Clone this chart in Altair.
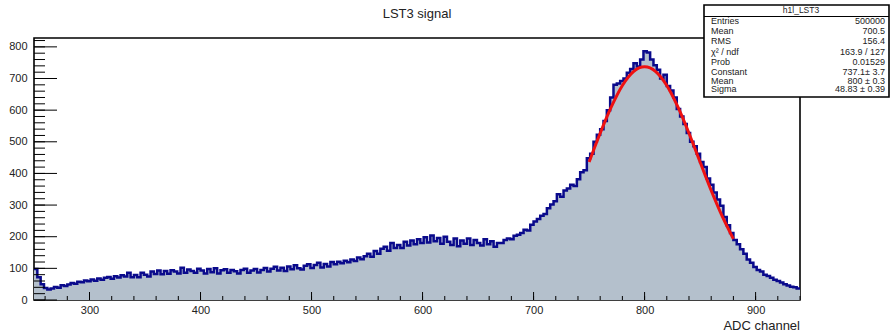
import altair as alt
import pandas as pd

# ---------------- data ----------------
bin_edges = list(range(250, 940, 3))          # left edges of 3-unit bins
counts = [
    98, 72, 50, 38, 33, 36, 41, 39, 47, 44,
    49, 54, 51, 58, 56, 62, 59, 65, 61, 68,
    64, 70, 73, 67, 75, 71, 78, 74, 86, 72,
    79, 72, 86, 80, 74, 90, 82, 93, 81, 92,
    83, 94, 90, 84, 102, 86, 96, 92, 86, 99,
    93, 84, 98, 88, 100, 84, 94, 97, 86, 95,
    91, 84, 95, 99, 86, 93, 98, 87, 95, 101,
    90, 99, 105, 93, 102, 92, 106, 97, 110, 100,
    96, 108, 113, 101, 111, 118, 103, 114, 106, 120,
    113, 121, 116, 124, 119, 128, 123, 134, 129, 138,
    146, 137, 155, 146, 162, 168, 156, 180, 164, 174,
    164, 184, 172, 188, 176, 192, 180, 198, 182, 204,
    186, 196, 178, 200, 184, 174, 194, 170, 188, 178,
    194, 174, 190, 180, 172, 192, 176, 186, 168, 180,
    180, 190, 194, 192, 203, 206, 212, 222, 220, 238,
    248, 256, 266, 272, 290, 302, 312, 334, 326, 346,
    352, 364, 360, 382, 404, 410, 448, 462, 500, 522,
    540, 566, 600, 640, 680, 684, 692, 700, 718, 730,
    748, 738, 760, 786, 782, 760, 742, 728, 700, 712,
    676, 662, 640, 604, 580, 556, 528, 500, 486, 462,
    436, 420, 384, 364, 340, 318, 298, 262, 236, 212,
    190, 176, 160, 146, 128, 118, 104, 95, 90, 80,
    76, 70, 64, 60, 55, 50, 46, 42, 40, 36,
]
x_end = 940

fit_x = [750, 760, 770, 780, 790, 800, 810, 820, 830, 840, 850, 860, 870, 880]
fit_y = [436, 527, 610, 678, 722, 737, 722, 678, 610, 527, 436, 346, 264, 193]

x_major = [300, 400, 500, 600, 700, 800, 900]
x_minor = list(range(260, 941, 20))
y_major = [0, 100, 200, 300, 400, 500, 600, 700, 800]
y_minor = list(range(0, 821, 20))

title_text = "LST3 signal"
x_title = "ADC channel"
stats_name = "h1l_LST3"
stat_labels = ["Entries", "Mean", "RMS", "χ² / ndf", "Prob", "Constant", "Mean", "Sigma"]
stat_values = ["500000", "700.5", "156.4", "163.9 / 127", "0.01529",
               "737.1± 3.7", "800 ± 0.3", "48.83 ± 0.39"]

# ---------------- styling ----------------
FONT = "Liberation Sans"
FILL = "#b4c0cc"
NAVY = "#0a0a8c"
W, H = 766, 262
PAD_L, PAD_T = 34, 38

hist = pd.DataFrame({"x": bin_edges + [x_end], "y": counts + [counts[-1]]})
fit = pd.DataFrame({"x": fit_x, "y": fit_y})

xs = alt.Scale(domain=[250, 940], nice=False, zero=False)
ys = alt.Scale(domain=[0, 828], nice=False)

x_axis = alt.Axis(values=x_major, ticks=False, domain=False, grid=False, title=None,
                  labelFontSize=11, labelPadding=4, labelFont=FONT, labelColor="#222")
y_axis = alt.Axis(values=y_major, ticks=False, domain=False, grid=False, title=None,
                  labelFontSize=11, labelPadding=7, labelFont=FONT, labelColor="#222")

def X(field):
    return alt.X(field, scale=xs, axis=x_axis)

def Y(field):
    return alt.Y(field, scale=ys, axis=y_axis)

area = alt.Chart(hist).mark_area(interpolate="step-after", color=FILL).encode(
    x=X("x:Q"), y=Y("y:Q"))
outline = alt.Chart(hist).mark_line(interpolate="step-after", color=NAVY, strokeWidth=2.5).encode(
    x=X("x:Q"), y=Y("y:Q"))
fit_line = alt.Chart(fit).mark_line(interpolate="monotone", color="#ee1111", strokeWidth=3).encode(
    x=X("x:Q"), y=Y("y:Q"))

def yticks(vals, length):
    return alt.Chart(pd.DataFrame({"y": vals})).mark_rule(color="black", strokeWidth=1).encode(
        y=Y("y:Q"), x=alt.value(0), x2=alt.value(length))

def xticks(vals, length):
    return alt.Chart(pd.DataFrame({"x": vals})).mark_rule(color="black", strokeWidth=1).encode(
        x=X("x:Q"), y=alt.value(H), y2=alt.value(H - length))

one = pd.DataFrame({"a": [0]})

def txt(s, x, y, align="left", size=9, color="#222"):
    return alt.Chart(one).mark_text(align=align, baseline="middle", fontSize=size,
                                    font=FONT, color=color).encode(
        x=alt.value(x), y=alt.value(y), text=alt.value(s))

layers = [area, outline, fit_line,
          yticks(y_minor, 11), yticks(y_major, 23),
          xticks(x_minor, 4), xticks(x_major, 8)]

# title and axis title
layers.append(txt(title_text, 417 - PAD_L, 14 - PAD_T, align="center", size=13))
layers.append(txt(x_title, W, 326 - PAD_T, align="right", size=13))

# stats box
bx0, bx1, by0, by1 = 704 - PAD_L, 889 - PAD_L, 5 - PAD_T, 97 - PAD_T
layers.append(alt.Chart(one).mark_rect(fill="white", stroke="black", strokeWidth=1.6).encode(
    x=alt.value(bx0), x2=alt.value(bx1), y=alt.value(by0), y2=alt.value(by1)))
layers.append(alt.Chart(one).mark_rule(color="black", strokeWidth=1).encode(
    x=alt.value(bx0), x2=alt.value(bx1), y=alt.value(16.5 - PAD_T)))
layers.append(txt(stats_name, 801 - PAD_L, 10 - PAD_T, align="center", size=8.5))
row_y = [21, 31, 41, 51.5, 61.5, 71.5, 80.5, 89]
for lab, val, yy in zip(stat_labels, stat_values, row_y):
    layers.append(txt(lab, 711 - PAD_L, yy - PAD_T))
    layers.append(txt(val, 885 - PAD_L, yy - PAD_T, align="right"))

chart = alt.layer(*layers).properties(
    width=W, height=H,
    autosize=alt.AutoSizeParams(type="none"),
    padding={"left": PAD_L, "top": PAD_T, "right": 891 - PAD_L - W, "bottom": 335 - PAD_T - H},
    background="white",
).configure_view(stroke="black", strokeWidth=1.6)

chart.save("out.html", embed_options={"renderer": "svg", "actions": False})
